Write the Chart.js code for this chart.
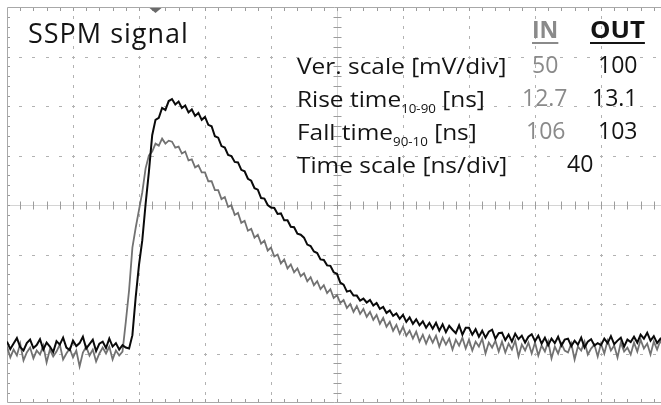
<!DOCTYPE html>
<html>
<head>
<meta charset="utf-8">
<script src="https://cdn.jsdelivr.net/npm/chart.js@4/dist/chart.umd.min.js"></script>
<style>
  html, body { margin:0; padding:0; background:#fff; overflow:hidden; }
  #wrap { position:relative; width:661px; height:405px; }
  #wrap canvas { position:absolute; left:0; top:0; }
  .t { position:absolute; white-space:nowrap; font-family:"Open Sans", "Noto Sans", sans-serif; color:#141414; line-height:1; transform-origin:0 0; }
  .lbl { font-size:22px; transform:scaleX(1.11); }
  .num { font-size:23px; }
  .g { color:#8a8a8a; }
  .hdr { font-weight:700; font-size:23px; text-decoration:underline; text-decoration-thickness:2px; text-underline-offset:4px; }
  .sub { font-size:12px; vertical-align:-6px; line-height:0; }
</style>
</head>
<body>
<div id="wrap">
  <canvas id="c" width="661" height="405"></canvas>
  <div class="t" style="left:28px;top:19px;font-size:27px;letter-spacing:1px;">SSPM signal</div>
  <div class="t hdr g" style="left:532px;top:18px;">IN</div>
  <div class="t hdr" style="left:590px;top:18px;transform:scaleX(1.12);">OUT</div>
  <div class="t lbl" style="left:297px;top:53.5px;">Ver. scale [mV/div]</div>
  <div class="t lbl" style="left:297px;top:86.5px;">Rise time<span class="sub">10-90</span> [ns]</div>
  <div class="t lbl" style="left:297px;top:119.5px;">Fall time<span class="sub">90-10</span> [ns]</div>
  <div class="t lbl" style="left:297px;top:152.5px;">Time scale [ns/div]</div>
  <div class="t num g" style="left:532px;top:52.5px;">50</div>
  <div class="t num" style="left:598px;top:52.5px;">100</div>
  <div class="t num g" style="left:522px;top:86px;">12.7</div>
  <div class="t num" style="left:592px;top:86px;">13.1</div>
  <div class="t num g" style="left:526px;top:119px;">106</div>
  <div class="t num" style="left:598px;top:119px;">103</div>
  <div class="t num" style="left:567px;top:152px;">40</div>
</div>
<script>
// ---- Data ----
// sample times in ns
const timeNs = [
  0,2,4,6,8,10,12,14,16,18,
  20,22,24,26,28,30,32,34,36,38,
  40,42,44,46,48,50,52,54,56,58,
  60,62,64,66,68,70,72,74,76,78,
  80,82,84,86,88,90,92,94,96,98,
  100,102,104,106,108,110,112,114,116,118,
  120,122,124,126,128,130,132,134,136,138,
  140,142,144,146,148,150,152,154,156,158,
  160,162,164,166,168,170,172,174,176,178,
  180,182,184,186,188,190,192,194,196,198,
  200,202,204,206,208,210,212,214,216,218,
  220,222,224,226,228,230,232,234,236,238,
  240,242,244,246,248,250,252,254,256,258,
  260,262,264,266,268,270,272,274,276,278,
  280,282,284,286,288,290,292,294,296,298,
  300,302,304,306,308,310,312,314,316,318,
  320,322,324,326,328,330,332,334,336,338,
  340,342,344,346,348,350,352,354,356,358,
  360,362,364,366,368,370,372,374,376,378,
  380,382,384,386,388,390,392,394,396,398
];
// OUT channel (black), mV, 100 mV/div, screen-referenced
const outMv = [
  -276,-291,-280,-269,-287,-294,-279,-272,-289,-283,
  -271,-292,-278,-286,-297,-275,-282,-268,-288,-293,
  -274,-285,-279,-266,-290,-281,-272,-295,-280,-276,
  -289,-270,-286,-279,-292,-283,-288,-290,-263,-186,
  -121,-71,2,67,141,172,176,196,192,210,
  214,203,209,196,201,187,193,180,186,172,
  178,162,159,139,136,119,116,101,99,87,
  86,71,68,53,49,34,31,14,13,0,
  -5,-6,-18,-17,-31,-31,-44,-45,-58,-60,
  -66,-80,-83,-94,-97,-110,-111,-122,-123,-136,
  -139,-157,-161,-175,-173,-183,-183,-193,-189,-197,
  -192,-203,-198,-210,-206,-218,-213,-224,-219,-230,
  -222,-236,-227,-240,-231,-243,-235,-248,-238,-250,
  -238,-254,-241,-257,-244,-252,-259,-243,-262,-248,
  -248,-262,-251,-266,-254,-268,-256,-252,-270,-259,
  -258,-273,-262,-276,-260,-271,-264,-278,-266,-261,
  -275,-264,-280,-268,-283,-270,-279,-266,-284,-272,
  -270,-285,-274,-282,-268,-288,-276,-271,-284,-279,
  -283,-270,-279,-265,-281,-274,-268,-286,-272,-277,
  -266,-278,-262,-270,-258,-274,-265,-279,-270,-276
];
// IN channel (grey), mV, 50 mV/div, screen-referenced
const inMv = [
  -143,-154,-146,-152,-140,-157,-149,-144,-155,-147,
  -151,-142,-159,-146,-153,-148,-141,-156,-150,-145,
  -154,-147,-163,-149,-143,-152,-146,-158,-150,-144,
  -150,-143,-156,-147,-152,-148,-118,-86,-43,-23,
  -5,13,37,50,54,62,60,67,62,65,
  64,58,59,52,54,45,46,38,40,33,
  33,24,24,15,15,6,8,-2,0,-10,
  -8,-18,-16,-26,-24,-33,-30,-39,-36,-46,
  -43,-52,-50,-59,-55,-64,-60,-68,-64,-72,
  -69,-77,-73,-81,-77,-85,-81,-89,-85,-94,
  -91,-99,-96,-104,-100,-108,-102,-110,-105,-113,
  -108,-116,-111,-120,-114,-123,-118,-127,-121,-130,
  -123,-132,-127,-135,-128,-138,-131,-140,-132,-139,
  -132,-143,-134,-141,-135,-146,-136,-142,-134,-145,
  -136,-147,-138,-143,-135,-150,-139,-144,-137,-148,
  -138,-149,-140,-146,-137,-153,-141,-147,-139,-150,
  -139,-152,-142,-148,-138,-155,-143,-150,-140,-147,
  -149,-140,-156,-143,-147,-138,-151,-145,-141,-153,
  -140,-150,-137,-147,-142,-154,-139,-148,-144,-151,
  -139,-148,-136,-145,-140,-151,-138,-146,-137,-144
];
// graticule: 40 ns/div horizontally, 8 div vertically (100 mV/div OUT, 50 mV/div IN)
const xDivNs = 40;
const xMinorNs = 8;
const xVisibleMaxNs = 396.36;   // screen crops the last division
const outDivMv = 100;
const outMinorMv = 20;
const inDivMv = 50;
const triggerNs = 90;

// ---- Chart ----
const outPts = timeNs.map((t, i) => ({ x: t, y: outMv[i] }));
const inPts  = timeNs.map((t, i) => ({ x: t, y: inMv[i] }));

const graticule = {
  id: 'graticule',
  beforeDatasetsDraw(chart) {
    const { ctx, chartArea: a, scales } = chart;
    const x = scales.x, y = scales.yOut;
    ctx.save();
    ctx.lineWidth = 1;
    const cx = Math.round(x.getPixelForValue(5 * xDivNs)) + 0.5;
    const cy = Math.round(y.getPixelForValue(0)) + 0.5;
    // dotted division lines
    ctx.fillStyle = '#b2b2b2';
    for (let d = xDivNs; d <= x.max; d += xDivNs) {
      if (d === 5 * xDivNs) continue;
      const px = Math.round(x.getPixelForValue(d));
      for (let v = y.min + outMinorMv; v < y.max; v += outMinorMv) {
        const py = Math.round(y.getPixelForValue(v));
        ctx.fillRect(px, py - 1, 1, 3);
      }
    }
    for (let v = y.min + outDivMv; v < y.max; v += outDivMv) {
      if (v === 0) continue;
      const py = Math.round(y.getPixelForValue(v));
      for (let t = xMinorNs; t <= x.max; t += xMinorNs) {
        const px = Math.round(x.getPixelForValue(t));
        ctx.fillRect(px - 1, py, 3, 1);
      }
    }
    // centre axes
    ctx.strokeStyle = '#d4d4d4';
    ctx.beginPath();
    ctx.moveTo(a.left, cy); ctx.lineTo(a.right, cy);
    ctx.moveTo(cx, a.top); ctx.lineTo(cx, a.bottom);
    ctx.stroke();
    // minor ticks on centre axes and frame
    ctx.strokeStyle = '#9c9c9c';
    ctx.beginPath();
    for (let t = xMinorNs; t <= x.max; t += xMinorNs) {
      const px = Math.round(x.getPixelForValue(t)) + 0.5;
      ctx.moveTo(px, cy - 4); ctx.lineTo(px, cy + 4);
      ctx.moveTo(px, a.top); ctx.lineTo(px, a.top + 4);
      ctx.moveTo(px, a.bottom); ctx.lineTo(px, a.bottom - 4);
    }
    for (let v = y.min + outMinorMv; v < y.max; v += outMinorMv) {
      const py = Math.round(y.getPixelForValue(v)) + 0.5;
      ctx.moveTo(cx - 4, py); ctx.lineTo(cx + 4, py);
      ctx.moveTo(a.left, py); ctx.lineTo(a.left + 3, py);
    }
    ctx.stroke();
    // frame
    ctx.strokeStyle = '#a8a8a8';
    ctx.beginPath();
    ctx.moveTo(a.right + 2, a.top + 0.5);
    ctx.lineTo(a.left + 0.5, a.top + 0.5);
    ctx.lineTo(a.left + 0.5, a.bottom - 0.5);
    ctx.lineTo(a.right + 2, a.bottom - 0.5);
    ctx.stroke();
    // trigger marker
    const tx = x.getPixelForValue(triggerNs);
    ctx.fillStyle = '#6a6a6a';
    ctx.beginPath();
    ctx.moveTo(tx - 6, a.top + 1);
    ctx.lineTo(tx + 6, a.top + 1);
    ctx.lineTo(tx, a.top + 6);
    ctx.closePath();
    ctx.fill();
    ctx.restore();
  }
};

new Chart(document.getElementById('c'), {
  type: 'line',
  data: {
    datasets: [
      { label: 'OUT', data: outPts, yAxisID: 'yOut', borderColor: '#0a0a0a', borderWidth: 2, pointRadius: 0, tension: 0 },
      { label: 'IN',  data: inPts,  yAxisID: 'yIn',  borderColor: '#727272', borderWidth: 1.8, pointRadius: 0, tension: 0 }
    ]
  },
  options: {
    responsive: false,
    animation: false,
    events: [],
    layout: { padding: { left: 7, top: 7, right: 0, bottom: 2 } },
    plugins: { legend: { display: false }, tooltip: { enabled: false } },
    scales: {
      x: {
        type: 'linear', min: 0, max: xVisibleMaxNs,
        afterFit: s => { s.height = 0; },
        ticks: { display: false, stepSize: xDivNs },
        grid: { display: false },
        border: { display: false }
      },
      yOut: {
        type: 'linear', position: 'left', min: -4 * outDivMv, max: 4 * outDivMv,
        afterFit: s => { s.width = 0; },
        ticks: { display: false, stepSize: outDivMv },
        grid: { display: false },
        border: { display: false }
      },
      yIn: {
        type: 'linear', position: 'right', min: -4 * inDivMv, max: 4 * inDivMv,
        display: false
      }
    }
  },
  plugins: [graticule]
});
</script>
</body>
</html>
